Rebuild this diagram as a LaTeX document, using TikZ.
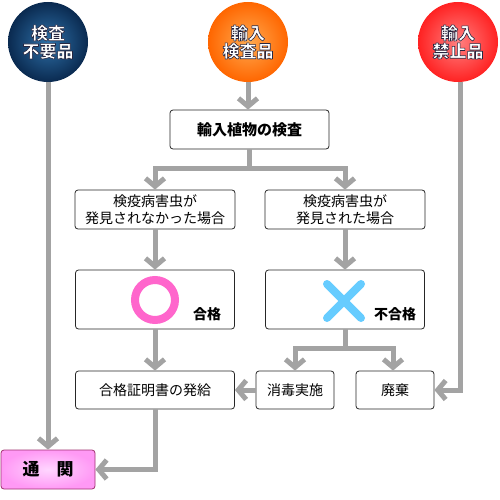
\documentclass[tikz,border=0pt]{standalone}
\usepackage{fontspec}
\setmainfont{Noto Sans CJK JP}
\usetikzlibrary{arrows.meta}
\definecolor{linegray}{HTML}{A3A3A3}
\definecolor{bluein}{HTML}{2E70A8}
\definecolor{blueout}{HTML}{0A2A50}
\definecolor{orin}{HTML}{FFAA50}
\definecolor{orout}{HTML}{FF6600}
\definecolor{redin}{HTML}{FF8080}
\definecolor{redout}{HTML}{FF2222}
\definecolor{ringpink}{HTML}{FF66CC}
\definecolor{xblue}{HTML}{66CCFF}
\definecolor{pinkin}{HTML}{FFD6FF}
\definecolor{pinkout}{HTML}{FF99F5}
\definecolor{pinkedge}{HTML}{A0306E}
\newcommand\haloed[1]{\special{pdf:code q 2 Tr 0.6 w 1 j 0.15 0.15 0.25 RG}#1\special{pdf:code Q}}
\begin{document}
\begin{tikzpicture}[x=1pt,y=-1pt,
  box/.style={draw=black!85, rounded corners=3pt, fill=white, line width=0.8pt,
    inner sep=0pt, align=center, font=\fontsize{14}{17}\selectfont},
  boldbox/.style={box, font=\bfseries\fontsize{15}{17}\selectfont},
  ball/.style={circle, minimum size=80pt, inner sep=0pt, text=white, align=center,
    font=\bfseries\fontsize{17}{18}\selectfont},
  conn/.style={draw=linegray, line width=5pt, -{Straight Barb[length=8pt,width=19pt]}},
  marklbl/.style={font=\bfseries\fontsize{14}{16}\selectfont}
]
\useasboundingbox (0,0) rectangle (500,500);

% top circles
\node[ball, inner color=bluein, outer color=blueout] (blue) at (48,42) {\haloed{検査}\\\haloed{不要品}};
\node[ball, inner color=orin, outer color=orout] (orange) at (248,42) {\haloed{輸入}\\\haloed{検査品}};
\node[ball, inner color=redin, outer color=redout] (red) at (458,42) {\haloed{輸入}\\\haloed{禁止品}};

% boxes
\node[boldbox, minimum width=159pt, minimum height=39pt] (insp) at (249.5,129.5) {輸入植物の検査};
\node[box, minimum width=160pt, minimum height=39pt] (nf) at (155,209.5) {検疫病害虫が\\発見されなかった場合};
\node[box, minimum width=160pt, minimum height=39pt] (f) at (345,209.5) {検疫病害虫が\\発見された場合};
\node[box, minimum width=159pt, minimum height=59pt] (pass) at (155,299.5) {};
\node[box, minimum width=159pt, minimum height=59pt] (fail) at (345,299.5) {};
\node[box, minimum width=159pt, minimum height=38pt] (cert) at (155,390) {合格証明書の発給};
\node[box, minimum width=78pt, minimum height=38pt] (dis) at (295,390) {消毒実施};
\node[box, minimum width=78pt, minimum height=38pt] (disc) at (395,390) {廃棄};
\node[box, draw=pinkedge, inner color=pinkin, outer color=pinkout, minimum width=94pt, minimum height=39pt,
  font=\bfseries\fontsize{17}{18}\selectfont] (tsu) at (48,469.5) {通　関};

% marks inside pass / fail
\draw[ringpink, line width=8pt] (155,300) circle (20);
\node[marklbl] (passlbl) at (207,314) {合格};
\draw[xblue, line width=8pt, line cap=round] (327,284) -- (361,318);
\draw[xblue, line width=8pt, line cap=round] (361,284) -- (327,318);
\node[marklbl] (faillbl) at (395,314) {不合格};

% connectors
\draw[conn] (blue.south) -- (tsu.north);
\draw[conn] (orange.south) -- (orange.south |- insp.north);
\draw[conn] (insp.south) -- ++(0,19) -| (nf.north);
\draw[conn] (insp.south) -- ++(0,19) -| (f.north);
\draw[conn] (nf.south) -- (pass.north);
\draw[conn] (f.south) -- (fail.north);
\draw[conn] (pass.south) -- (cert.north);
\draw[conn] (fail.south) -- ++(0,19) -| ([xshift=-2pt]disc.north);
\draw[conn] (fail.south) -- ++(0,19) -| (dis.north);
\draw[conn] (dis.west) -- (cert.east);
\draw[conn] ([xshift=2pt]red.south) |- (disc.east);
\draw[conn] (cert.south) |- (tsu.east);
\end{tikzpicture}
\end{document}
